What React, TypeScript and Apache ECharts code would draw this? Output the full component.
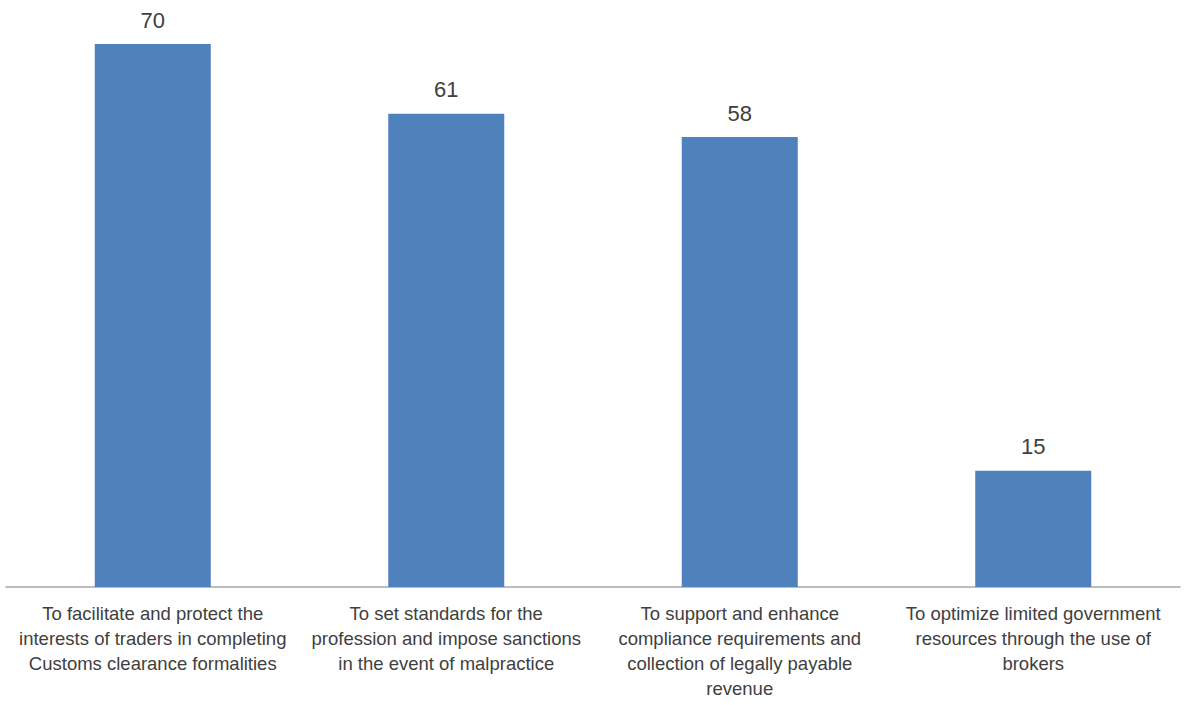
import React, { useEffect, useRef } from "react";
import * as echarts from "echarts";

const categories = [
  "To facilitate and protect the\ninterests of traders in completing\nCustoms clearance formalities",
  "To set standards for the\nprofession and impose sanctions\nin the event of malpractice",
  "To support and enhance\ncompliance requirements and\ncollection of legally payable\nrevenue",
  "To optimize limited government\nresources through the use of\nbrokers",
];
const values = [70, 61, 58, 15];

export default function App() {
  const ref = useRef<HTMLDivElement>(null);
  useEffect(() => {
    document.body.style.margin = "0";
    const chart = echarts.init(ref.current!, null, { renderer: "svg" });
    chart.setOption({
      animation: false,
      grid: { left: 6, right: 4, top: 44, bottom: 118 },
      xAxis: {
        type: "category",
        data: categories,
        axisLine: { lineStyle: { color: "#A6A6A6", width: 1.5 } },
        axisTick: { show: false },
        axisLabel: {
          interval: 0,
          color: "#404040",
          fontFamily: "Liberation Sans",
          fontSize: 18.5,
          lineHeight: 25,
          margin: 14,
        },
      },
      yAxis: { type: "value", min: 0, max: 70, show: false, splitLine: { show: false } },
      series: [
        {
          type: "bar",
          data: values,
          barWidth: 116,
          itemStyle: { color: "#4F81BD" },
          label: {
            show: true,
            position: "top",
            distance: 13,
            color: "#404040",
            fontFamily: "Liberation Sans",
            fontSize: 22,
          },
        },
      ],
    });
    return () => chart.dispose();
  }, []);
  return <div ref={ref} style={{ width: 1184, height: 705 }} />;
}
